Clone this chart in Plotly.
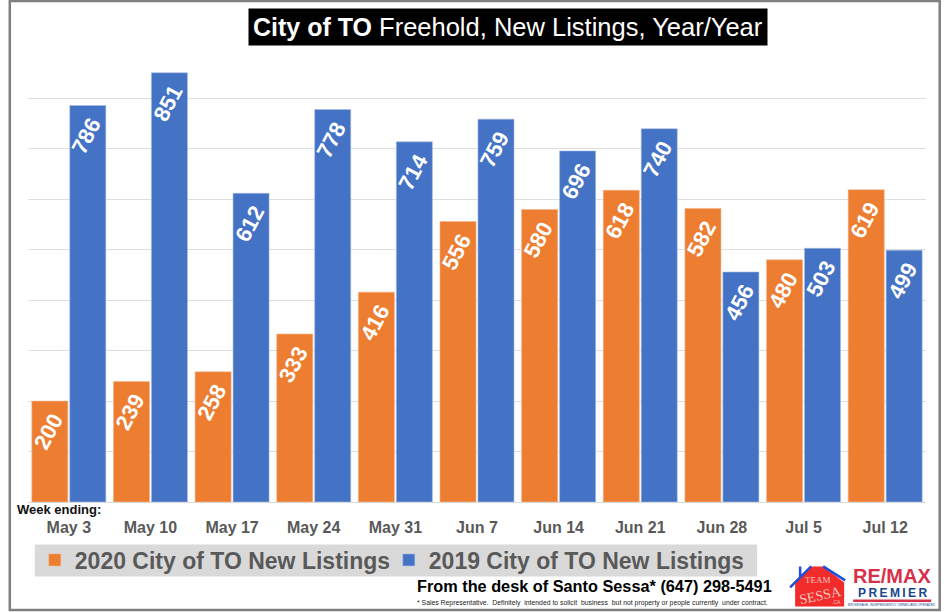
import plotly.graph_objects as go

weeks = ["May 3", "May 10", "May 17", "May 24", "May 31", "Jun 7", "Jun 14", "Jun 21", "Jun 28", "Jul 5", "Jul 12"]
listings_2020 = [200, 239, 258, 333, 416, 556, 580, 618, 582, 480, 619]
listings_2019 = [786, 851, 612, 778, 714, 759, 696, 740, 456, 503, 499]
name_2020 = "2020 City of TO New Listings"
name_2019 = "2019 City of TO New Listings"

ORANGE = "#ED7D31"
BLUE = "#4472C4"
W, H = 946, 612
L, R, T, B = 28.2, 925.8, 48, 502.5
SANS = "Liberation Sans, Arial, sans-serif"
SERIF = "Liberation Serif, serif"

def px(x):
    return (x - L) / (R - L)

def py(y):
    return (B - y) / (B - T)

fig = go.Figure()
for name, vals, col in ((name_2020, listings_2020, ORANGE), (name_2019, listings_2019, BLUE)):
    fig.add_trace(go.Bar(
        name=name, x=weeks, y=vals,
        marker=dict(color=col, line=dict(color="#a9bde3" if col == BLUE else "#f5b58a", width=0.6)),
        text=[f"{v}\u00a0" for v in vals], textposition="inside", insidetextanchor="end",
        textangle=-62, constraintext="none",
        insidetextfont=dict(family=SANS, size=22, color="white", weight="bold"),
        cliponaxis=False,
    ))

def pshape(**kw):
    return dict(xref="paper", yref="paper", **kw)

shapes = [
    pshape(type="rect", x0=px(10), x1=px(939.5), y0=py(1), y1=py(610.5),
           line=dict(color="#7f7f7f", width=2.5), fillcolor="rgba(0,0,0,0)", layer="below"),
    # legend band
    pshape(type="rect", x0=px(35), x1=px(757), y0=py(545), y1=py(577),
           fillcolor="#D9D9D9", line=dict(width=0), layer="below"),
    # Team Sessa logo
    pshape(type="path",
           path=f"M {px(795)} {py(607)} L {px(795)} {py(583)} L {px(811)} {py(567)} L {px(823)} {py(567)} "
                f"L {px(844)} {py(583)} L {px(844)} {py(607)} Z",
           fillcolor="#F22B2B", line=dict(width=0)),
    pshape(type="path",
           path=f"M {px(790)} {py(588)} L {px(811)} {py(567)} M {px(823)} {py(567)} L {px(845)} {py(581)} "
                f"M {px(800)} {py(567)} L {px(800)} {py(578)}",
           line=dict(color="#1F4FD8", width=2.5)),
    # RE/MAX rule
    pshape(type="rect", x0=px(853), x1=px(931), y0=py(602.5), y1=py(600),
           fillcolor="#D8304B", line=dict(width=0)),
]

def note(x, y, text, size, color, family=SANS, anchor="left", **kw):
    return dict(xref="paper", yref="paper", x=px(x), y=py(y), text=text, showarrow=False,
                xanchor=anchor, yanchor="middle", font=dict(family=family, size=size, color=color), **kw)

annotations = [
    note(507.5, 27, "<b><span style='font-size:25px;color:white'>City of TO</span></b>"
         "<span style='font-size:25.5px;color:white'> Freehold, New Listings, Year/Year</span>",
         25, "white", anchor="center", bgcolor="black", borderpad=4),
    note(15, 510.5, "<b>Week ending:</b>", 13, "#111111"),
    note(415, 587, "<b>From the desk of Santo Sessa* (647) 298-5491</b>", 16.3, "black"),
    note(415, 604, "* Sales Representative.  Definitely  intended to solicit  business  but not property or people currently  under contract.",
         6.85, "#222222"),
    note(818, 581, "TEAM", 9, "#F7C9C0", family=SERIF, anchor="center"),
    note(820, 596, "SESSA", 14, "#F7C9C0", family=SERIF, anchor="center", textangle=-12),
    note(836, 603, ".CA", 5, "#F7C9C0", family=SANS, anchor="center"),
    note(892, 576.5, "<b>RE/MAX</b>", 20, "#D8304B", anchor="center"),
    note(892, 594, "<b>P\u2009R\u2009E\u2009M\u2009I\u2009E\u2009R</b>", 12, "#17468F", anchor="center"),
    note(892, 605.5, "BROKERAGE, INDEPENDENTLY OWNED AND OPERATED", 3.2, "#17468F", anchor="center"),
]

fig.update_layout(
    width=W, height=H, autosize=False,
    margin=dict(l=L, r=W - R, t=T, b=H - B, pad=0),
    paper_bgcolor="white", plot_bgcolor="white",
    barmode="group", bargap=0.07, bargroupgap=0.05,
    showlegend=True,
    legend=dict(orientation="h", xref="paper", yref="paper", x=px(35), y=py(539), xanchor="left", yanchor="top",
                bgcolor="rgba(0,0,0,0)", font=dict(family=SANS, size=23, color="#595959", weight="bold"),
                entrywidth=309, entrywidthmode="pixels",
                itemclick=False, itemdoubleclick=False, traceorder="normal"),
    xaxis=dict(type="category", tickfont=dict(family=SANS, size=16, color="#595959", weight="bold"),
               showline=True, linecolor="#D9D9D9", linewidth=1, ticks="", showgrid=False, ticklabelstandoff=11),
    yaxis=dict(range=[0, 900], dtick=100, showticklabels=False, showgrid=True, gridcolor="#DEDEDE", gridwidth=1.3,
               zeroline=False, ticks="", showline=False),
    shapes=shapes, annotations=annotations,
)
fig.write_html("out.html", config={"displayModeBar": False}, post_script="document.body.style.margin='0';")
